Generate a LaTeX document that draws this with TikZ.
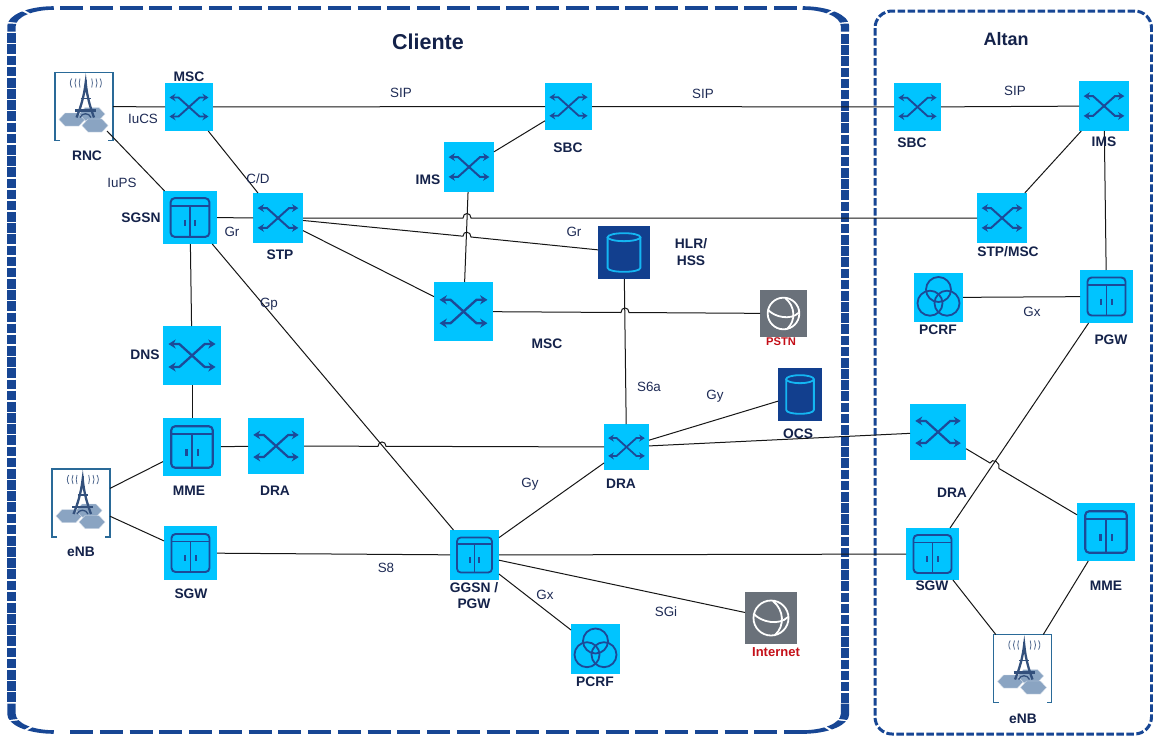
\documentclass[tikz,border=0pt]{standalone}
\usepackage{fontspec}
\setmainfont{Liberation Sans}
\usetikzlibrary{arrows.meta}
\definecolor{cyanbox}{HTML}{00C4FF}
\definecolor{iconblue}{HTML}{1C4A98}
\definecolor{dbbox}{HTML}{123F8E}
\definecolor{dbline}{HTML}{14B6F2}
\definecolor{greybox}{HTML}{6A717A}
\definecolor{panelblue}{HTML}{174694}
\definecolor{navy}{HTML}{14224A}
\definecolor{labelnavy}{HTML}{1E2B55}
\definecolor{redtxt}{HTML}{C40F18}
\definecolor{framec}{HTML}{2A6A98}
\definecolor{towerc}{HTML}{33507C}
\definecolor{hexc}{HTML}{8AA4C2}
\definecolor{linec}{HTML}{161616}
\tikzset{
  box/.style={inner sep=0pt,outer sep=0pt,rectangle},
  conn/.style={draw=linec,line width=1pt},
  tag/.style={inner sep=0pt,text=navy,align=center,font=\fontsize{13.8}{15.5}\selectfont\bfseries},
  lbl/.style={inner sep=0pt,text=labelnavy,font=\fontsize{13.4}{15}\selectfont},
  redtag/.style={inner sep=0pt,text=redtxt,font=\fontsize{#1}{14}\selectfont\bfseries},
}
% name cx cy w h
\newcommand\boxsw[5]{%
  \node[box,fill=cyanbox,minimum width=#4pt,minimum height=#5pt] (#1) at (#2,#3) {};
  \pgfmathsetmacro\sc{#4/48}\pgfmathsetmacro\lw{1.9*\sc}\pgfmathsetmacro\tl{6*\sc}\pgfmathsetmacro\tw{7.5*\sc}
  \begin{scope}[shift={(#2,#3)},scale=\sc,draw=iconblue,line width=\lw pt,{Stealth[length=\tl pt,width=\tw pt]}-{Stealth[length=\tl pt,width=\tw pt]}]
    \draw (-19.5,-9.5) -- (-10.5,-9.5) -- (10.5,9.5) -- (19.5,9.5);
    \draw (-19.5,9.5) -- (-10.5,9.5) -- (10.5,-9.5) -- (19.5,-9.5);
  \end{scope}}
\newcommand\boxdoor[5]{%
  \node[box,fill=cyanbox,minimum width=#4pt,minimum height=#5pt] (#1) at (#2,#3) {};
  \pgfmathsetmacro\sc{#4/48}\pgfmathsetmacro\lw{1.75*\sc}
  \begin{scope}[shift={(#2,#3)},scale=\sc,draw=iconblue,line width=\lw pt]
    \draw[rounded corners=4pt] (-17.2,-17.2) rectangle (17.2,17.2);
    \draw (-17.2,-10.4) -- (17.2,-10.4);
    \draw (0,-10.4) -- (0,17.2);
    \draw (-4.6,2) -- (-4.6,7.5);
    \draw (4.6,2) -- (4.6,7.5);
  \end{scope}}
\newcommand\boxdb[5]{%
  \node[box,fill=dbbox,minimum width=#4pt,minimum height=#5pt] (#1) at (#2,#3) {};
  \pgfmathsetmacro\hw{0.315*#4}\pgfmathsetmacro\hh{0.365*#5}\pgfmathsetmacro\ta{\hh-4}\pgfmathsetmacro\tb{\hh+1.3}
  \begin{scope}[shift={(#2,#3)},draw=dbline,line width=1.8pt]
    \draw (0,-\ta) ellipse [x radius=\hw,y radius=4];
    \draw (-\hw,-\ta) -- (-\hw,\ta) .. controls (-\hw,\tb) and (\hw,\tb) .. (\hw,\ta) -- (\hw,-\ta);
  \end{scope}}
\newcommand\boxglobe[5]{%
  \node[box,fill=greybox,minimum width=#4pt,minimum height=#5pt] (#1) at (#2,#3) {};
  \pgfmathsetmacro\sc{#4/52}
  \begin{scope}[shift={(#2,#3)},scale=\sc,draw=white,line width=1.8pt]
    \draw (0,0) circle [radius=17.5];
    \draw (-17,-4) .. controls (-10,4) and (8,8) .. (17,-1);
    \draw (2,-17) .. controls (13,-8) and (14,8) .. (4,17);
  \end{scope}}
\newcommand\boxpcrf[5]{%
  \node[box,fill=cyanbox,minimum width=#4pt,minimum height=#5pt] (#1) at (#2,#3) {};
  \begin{scope}[shift={(#2,#3)},draw=iconblue,line width=1.8pt]
    \draw (0,-8) circle [radius=12.5];
    \draw (-8.5,5.7) circle [radius=12.5];
    \draw (8.5,5.7) circle [radius=12.5];
  \end{scope}}
\newcommand\boxtower[3]{%
  \node[box,minimum width=58pt,minimum height=68pt] (#1) at (#2,#3) {};
  \begin{scope}[shift={(#2,#3)}]
    \draw[framec,line width=1.3pt] (-24,34) -- (-29,34) -- (-29,-34) -- (29,-34) -- (29,34) -- (24,34);
    \foreach \hx/\hy in {-12/13,8/7.5,11/19}{
      \fill[hexc,shift={(\hx,\hy)}] (-13,0) -- (-7,-6.5) -- (7,-6.5) -- (13,0) -- (7,6.5) -- (-7,6.5) -- cycle;
      \draw[white!65!hexc,line width=0.4pt,shift={(\hx,\hy)}] (-13,0) -- (-7,-6.5) -- (7,-6.5) -- (13,0) -- (7,6.5) -- (-7,6.5) -- cycle;
    }
    \draw[towerc,line width=2.3pt] (-7.5,11) .. controls (-3,0) and (0,-10) .. (1.7,-24) .. controls (3,-10) and (6,0) .. (10,11);
    \draw[towerc,line width=1.6pt] (-3.5,-8) -- (6.5,-8);
    \draw[towerc,line width=2.3pt] (-9,4) -- (12,4);
    \draw[towerc,line width=1.3pt] (-4,11) .. controls (-2,6) and (5,6) .. (7,11);
    \draw[towerc,line width=1.6pt] (1.7,-27) -- (1.7,-22);
    \foreach \wx/\bow in {-12.3/-1.8,-8/-1.4,-4/-1,7.7/1,12/1.4,16/1.8}{
      \draw[towerc!85!white,line width=0.8pt] (\wx,-28) .. controls (\wx+\bow,-25) and (\wx+\bow,-22) .. (\wx,-19);
    }
  \end{scope}}
\begin{document}
\begin{tikzpicture}[x=1pt,y=-1pt]
\useasboundingbox (0,0) rectangle (1153,736);
\fill[white] (0,0) rectangle (1153,736);
% Cliente panel: the frame is stretched sideways, so its parts are drawn apart
\draw[panelblue,line width=3.6pt,dash pattern=on 23pt off 6.75pt] (60,8) -- (797,8);
\draw[panelblue,line width=3.6pt,dash pattern=on 23pt off 6.75pt] (70,732) -- (807,732);
\draw[panelblue,line width=8.4pt,dash pattern=on 9.6pt off 1.57pt] (11.5,33.3) -- (11.5,703.4);
\draw[panelblue,line width=8.4pt,dash pattern=on 9.6pt off 1.57pt] (845,34) -- (845,703.4);
\begin{scope}
  \pgflowlevel{\pgftransformxscale{2.35}}
  \begin{scope}[panelblue,line width=3.6pt]
    \draw[dash pattern=on 8pt off 1.5pt on 11pt off 1.5pt on 12pt off 5pt]
      (4.89,31.7) -- (4.89,26) .. controls (4.89,16) and (12.89,8) .. (22.89,8);
    \draw[dash pattern=on 8pt off 1.5pt on 11pt off 1.5pt on 12pt off 5pt]
      (359.57,31.7) -- (359.57,26) .. controls (359.57,16) and (351.57,8) .. (341.57,8);
    \draw[dash pattern=on 16pt off 1.5pt on 9pt off 1.5pt on 11pt off 5pt]
      (4.89,703.5) -- (4.89,714) .. controls (4.89,724) and (12.89,732) .. (22.89,732);
    \draw[dash pattern=on 16pt off 1.5pt on 9pt off 1.5pt on 11pt off 5pt]
      (359.57,703.5) -- (359.57,714) .. controls (359.57,724) and (351.57,732) .. (341.57,732);
  \end{scope}
\end{scope}
% Altan panel
\draw[panelblue,line width=3pt,dash pattern=on 7.5pt off 2.5pt,rounded corners=17pt]
  (875,11) rectangle (1151.5,734);
% devices
\boxtower{rnc}{84}{106.5}
\boxsw{msc}{189}{107}{48}{48}
\boxdoor{sgsn}{190}{217.5}{54}{53}
\boxsw{stp}{278}{218}{50}{50}
\boxsw{sbca}{568.5}{106.5}{47}{47}
\boxsw{imsa}{469}{167}{50}{50}
\boxsw{mscb}{463.5}{311.5}{59}{59}
\boxdb{hlr}{624}{252.5}{52}{53}
\boxglobe{pstn}{783.5}{313.5}{47}{47}
\boxsw{dns}{192}{355.5}{58}{59}
\boxdoor{mmea}{192}{447}{58}{58}
\boxsw{draa}{276}{446}{56}{56}
\boxsw{drab}{626.5}{447}{45}{46}
\boxdb{ocs}{800}{394.5}{44}{53}
\boxtower{enba}{81}{503}
\boxdoor{sgwa}{190.5}{553}{53}{54}
\boxdoor{ggsn}{474.5}{555}{49}{50}
\boxpcrf{pcrfa}{595.5}{649}{49}{50}
\boxglobe{inet}{771}{618}{52}{52}
\boxsw{sbcb}{917.5}{107}{47}{48}
\boxsw{imsb}{1104}{106}{50}{50}
\boxsw{stpm}{1002}{218}{50}{50}
\boxpcrf{pcrfb}{938.5}{297.5}{49}{49}
\boxdoor{pgw}{1106.5}{296.5}{53}{53}
\boxsw{drac}{938}{432}{56}{56}
\boxdoor{mmeb}{1106}{532}{58}{58}
\boxdoor{sgwb}{932.5}{554}{53}{52}
\boxtower{enbb}{1022.5}{668.5}
% hop points
\coordinate (rncp) at (107,131);
\coordinate (ha) at (463,218);   \coordinate (hb) at (471,218);
\coordinate (hc) at (463,236.2); \coordinate (hd) at (471,237);
\coordinate (he) at (621,312.5); \coordinate (hf) at (629,312.5);
\coordinate (hg) at (378,446.3); \coordinate (hh) at (386,446.3);
\coordinate (hi) at (990,463);   \coordinate (hj) at (999,468.5);
% connectors
\draw[conn] (rnc) -- (msc);
\draw[conn] (rncp) -- (sgsn);
\draw[conn] (msc) -- (sbca);
\draw[conn] (sbca) -- (sbcb);
\draw[conn] (sbcb) -- (imsb);
\draw[conn] (msc) -- (stp);
\draw[conn] (sgsn) -- (stp);
\draw[conn] (stp) -- (ha) .. controls (463,212) and (471,212) .. (hb) -- (stpm);
\draw[conn] (stp) -- (hc) .. controls (463,230.5) and (471,231) .. (hd) -- (hlr);
\draw[conn] (stp) -- (mscb);
\draw[conn] (imsa) -- (sbca);
\draw[conn] (imsa) -- (mscb);
\draw[conn] (mscb) -- (he) .. controls (621,306.5) and (629,306.5) .. (hf) -- (pstn);
\draw[conn] (hlr) -- (drab);
\draw[conn] (drab) -- (ocs);
\draw[conn] (drab) -- (drac);
\draw[conn] (draa) -- (hg) .. controls (378,440.5) and (386,440.5) .. (hh) -- (drab);
\draw[conn] (mmea) -- (draa);
\draw[conn] (sgsn) -- (ggsn);
\draw[conn] (sgsn) -- (dns);
\draw[conn] (dns) -- (mmea);
\draw[conn] (enba) -- (mmea);
\draw[conn] (enba) -- (sgwa);
\draw[conn] (sgwa) -- (ggsn);
\draw[conn] (ggsn) -- (drab);
\draw[conn] (ggsn) -- (sgwb);
\draw[conn] (ggsn) -- (inet);
\draw[conn] (ggsn) -- (pcrfa);
\draw[conn] (imsb) -- (stpm);
\draw[conn] (imsb) -- (pgw);
\draw[conn] (pcrfb) -- (pgw);
\draw[conn] (pgw) -- (sgwb);
\draw[conn] (drac) -- (hi) .. controls (992,457.5) and (1001,462.5) .. (hj) -- (mmeb);
\draw[conn] (sgwb) -- (enbb);
\draw[conn] (mmeb) -- (enbb);
% panel titles
\node[tag,font=\fontsize{21.5}{23}\selectfont\bfseries] (tcliente) at (428,42) {Cliente};
\node[tag,font=\fontsize{18}{20}\selectfont\bfseries] (taltan) at (1006,39) {Altan};
% device tags
\node[tag] (t1) at (189,76.5) {MSC};
\node[tag] (t2) at (87,155.5) {RNC};
\node[tag] (t3) at (141,218) {SGSN};
\node[tag] (t4) at (280,254.5) {STP};
\node[tag] (t5) at (568,147.5) {SBC};
\node[tag] (t6) at (428,180) {IMS};
\node[tag] (t7) at (691,252.5) {HLR/\\[1.5pt]HSS};
\node[tag] (t8) at (547,344) {MSC};
\node[tag] (t9) at (145,355) {DNS};
\node[tag] (t10) at (189,491) {MME};
\node[tag] (t11) at (275,491) {DRA};
\node[tag] (t12) at (81,552) {eNB};
\node[tag] (t13) at (191,594) {SGW};
\node[tag] (t14) at (621,484) {DRA};
\node[tag] (t15) at (798,434) {OCS};
\node[tag] (t16) at (474,595.5) {GGSN /\\[0.5pt]PGW};
\node[tag] (t17) at (595,682) {PCRF};
\node[tag] (t18) at (912,143) {SBC};
\node[tag] (t19) at (1104,142) {IMS};
\node[tag] (t20) at (1008,252) {STP/MSC};
\node[tag] (t21) at (938,330) {PCRF};
\node[tag] (t22) at (1111,340) {PGW};
\node[tag] (t23) at (952,493) {DRA};
\node[tag] (t24) at (932,586) {SGW};
\node[tag] (t25) at (1106,586) {MME};
\node[tag] (t26) at (1023,719) {eNB};
\node[redtag=11.2] (t27) at (781,342) {PSTN};
\node[redtag=13] (t28) at (776,652) {Internet};
% interface labels
\node[lbl] (l1) at (401,93) {SIP};
\node[lbl] (l2) at (703,94) {SIP};
\node[lbl] (l3) at (1015,91) {SIP};
\node[lbl] (l4) at (143,119) {IuCS};
\node[lbl] (l5) at (122,183) {IuPS};
\node[lbl] (l6) at (258,179) {C/D};
\node[lbl] (l7) at (232,232) {Gr};
\node[lbl] (l8) at (574,232) {Gr};
\node[lbl] (l9) at (269,304) {Gp};
\node[lbl] (l10) at (649,387) {S6a};
\node[lbl] (l11) at (715,396) {Gy};
\node[lbl] (l12) at (530,484) {Gy};
\node[lbl] (l13) at (386,568) {S8};
\node[lbl] (l14) at (545,595) {Gx};
\node[lbl] (l15) at (666,612) {SGi};
\node[lbl] (l16) at (1032,312) {Gx};
\end{tikzpicture}
\end{document}
